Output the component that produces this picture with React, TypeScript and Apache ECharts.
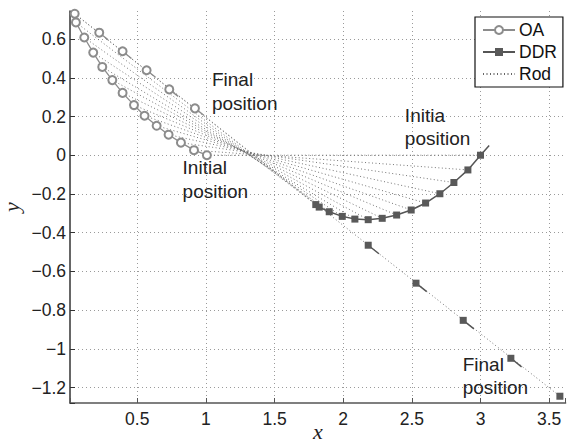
import React, { useEffect, useRef } from 'react';
import * as echarts from 'echarts';

// OA trajectory (lower curve), from final (top) to initial (bottom-right)
const oaX = [0.044, 0.053, 0.114, 0.179, 0.245, 0.318, 0.393, 0.476, 0.553, 0.641, 0.728, 0.818, 0.913, 1.007];
const oaY = [0.731, 0.686, 0.608, 0.530, 0.456, 0.388, 0.322, 0.259, 0.204, 0.152, 0.106, 0.065, 0.026, 0.0];
const oaCorner = [0.02, 0.745];
// DDR trajectory (U curve), paired with OA points
const ddrX = [1.80, 1.825, 1.898, 1.993, 2.085, 2.182, 2.284, 2.389, 2.495, 2.600, 2.704, 2.806, 2.908, 3.0];
const ddrY = [-0.255, -0.268, -0.292, -0.316, -0.330, -0.333, -0.326, -0.309, -0.283, -0.247, -0.199, -0.141, -0.076, 0.0];
const ddrTip = [3.063, 0.05];
// nodes along the final rod
const oaFinalX = [0.223, 0.393, 0.568, 0.733, 0.92];
const oaFinalY = [0.633, 0.537, 0.439, 0.340, 0.242];
const oaFinalTailX = [0.288, 0.458, 0.633, 0.798, 0.985];
const oaFinalTailY = [0.597, 0.500, 0.403, 0.304, 0.206];
const ddrFinalX = [2.182, 2.530, 2.874, 3.221, 3.578];
const ddrFinalY = [-0.465, -0.661, -0.853, -1.049, -1.245];
const ddrFinalTailX = [2.26, 2.608, 2.952, 3.299, 3.6];
const ddrFinalTailY = [-0.509, -0.705, -0.897, -1.093, -1.257];
// final rod end points
const finalRodX = [0.044, 3.578];
const finalRodY = [0.731, -1.245];

const notes = [
  { text: 'Final\nposition', x: 1.044, y: 0.33 },
  { text: 'Initial\nposition', x: 0.83, y: -0.125 },
  { text: 'Initia\nposition', x: 2.449, y: 0.146 },
  { text: 'Final\nposition', x: 2.87, y: -1.14 },
];

const X_MIN = 0.01, X_MAX = 3.62, Y_MIN = -1.28, Y_MAX = 0.745;
const BREAK: any = ['-', '-'];
const FONT = "'Liberation Sans', Arial, Helvetica, sans-serif";
const SERIF = "'Liberation Serif', 'DejaVu Serif', serif";

function fmt(v: number, step: number) {
  const k = v / step;
  if (Math.abs(k - Math.round(k)) > 1e-6) return '';
  const r = Math.round(v * 10) / 10;
  if (r === 0) return '0';
  return String(r).replace('-', '\u2212');
}

export default function App() {
  const ref = useRef<HTMLDivElement>(null);
  useEffect(() => {
    if (!ref.current) return;
    const chart = echarts.init(ref.current, null, { renderer: 'svg' });

    const rodData: any[] = [];
    for (let i = 0; i < oaX.length; i++) {
      rodData.push([oaX[i], oaY[i]], [ddrX[i], ddrY[i]], BREAK);
    }
    rodData.push([finalRodX[0], finalRodY[0]], [finalRodX[1], finalRodY[1]]);

    const oaData: any[] = [{ value: oaCorner, symbol: 'none' }];
    for (let i = 0; i < oaX.length; i++) oaData.push([oaX[i], oaY[i]]);
    for (let i = 0; i < oaFinalX.length; i++) {
      oaData.push(BREAK, [oaFinalX[i], oaFinalY[i]], { value: [oaFinalTailX[i], oaFinalTailY[i]], symbol: 'none' });
    }

    const ddrData: any[] = [];
    for (let i = 0; i < ddrX.length; i++) ddrData.push([ddrX[i], ddrY[i]]);
    ddrData.push({ value: ddrTip, symbol: 'none' });
    for (let i = 0; i < ddrFinalX.length; i++) {
      ddrData.push(BREAK, [ddrFinalX[i], ddrFinalY[i]], { value: [ddrFinalTailX[i], ddrFinalTailY[i]], symbol: 'none' });
    }

    const gridLine = { show: true, showMinLine: false, showMaxLine: false, lineStyle: { color: '#9a9a9a', width: 1, type: [1, 3] } };

    chart.setOption({
      animation: false,
      backgroundColor: '#fff',
      textStyle: { fontFamily: FONT },
      grid: { left: 70, right: 567 - 70 - (X_MAX - X_MIN) * 137.3, top: 11, bottom: 442 - 403, outerBoundsMode: 'none', containLabel: false },
      xAxis: {
        type: 'value', min: X_MIN, max: X_MAX, minInterval: 0.5, maxInterval: 0.5,
        name: 'x', nameLocation: 'middle', nameGap: 17, nameMoveOverlap: false,
        nameTextStyle: { fontFamily: SERIF, fontStyle: 'italic', fontSize: 22, color: '#222' },
        axisLine: { show: true, onZero: false, lineStyle: { color: '#555', width: 1.5 } },
        axisTick: { show: true, inside: true, length: 5, lineStyle: { color: '#555' } },
        axisLabel: { fontSize: 17.5, color: '#222', margin: 7, formatter: (v: number) => fmt(v, 0.5) },
        splitLine: gridLine,
      },
      yAxis: {
        type: 'value', min: Y_MIN, max: Y_MAX, minInterval: 0.2, maxInterval: 0.2,
        name: 'y', nameLocation: 'middle', nameGap: 48, nameRotate: 90, nameMoveOverlap: false,
        nameTextStyle: { fontFamily: SERIF, fontStyle: 'italic', fontSize: 22, color: '#222' },
        axisLine: { show: true, onZero: false, lineStyle: { color: '#333', width: 1.5 } },
        axisTick: { show: true, inside: true, length: 5, lineStyle: { color: '#333' } },
        axisLabel: { fontSize: 17.5, color: '#222', margin: 4, formatter: (v: number) => fmt(v, 0.2) },
        splitLine: gridLine,
      },
      legend: {
        left: 475, top: 17, orient: 'vertical',
        data: ['OA', 'DDR', { name: 'Rod', itemStyle: { opacity: 0 } }],
        backgroundColor: '#fff', borderColor: '#111', borderWidth: 1.2, borderRadius: 0,
        padding: [4, 6, 4, 7], itemGap: 4, itemWidth: 32, itemHeight: 10,
        textStyle: { fontSize: 17.5, color: '#111', lineHeight: 18, padding: [0, 0, 0, -1] },
      },
      series: [
        {
          name: 'Rod', type: 'line', data: rodData, symbol: 'none', connectNulls: false,
          lineStyle: { color: '#666', width: 0.9, type: [1, 2.5] }, itemStyle: { color: '#666' }, z: 1,
        },
        {
          name: 'OA', type: 'line', data: oaData, symbol: 'emptyCircle', symbolSize: 8, connectNulls: false,
          lineStyle: { color: '#8c8c8c', width: 1.3 }, itemStyle: { color: '#8c8c8c', borderWidth: 1.2 }, z: 3,
        },
        {
          name: 'DDR', type: 'line', data: ddrData, symbol: 'rect', symbolSize: 7, connectNulls: false,
          lineStyle: { color: '#555', width: 1.5 }, itemStyle: { color: '#595959' }, z: 4,
        },
      ],
    });

    const graphics = notes.map((n) => {
      const p = chart.convertToPixel({ gridIndex: 0 }, [n.x, n.y]) as number[];
      return {
        type: 'text', x: p[0], y: p[1], z: 10,
        style: { text: n.text, fontSize: 19, lineHeight: 23.5, fontFamily: FONT, fill: '#222', align: 'left', verticalAlign: 'middle' },
      };
    });
    chart.setOption({ graphic: graphics });

    return () => chart.dispose();
  }, []);
  return <div ref={ref} style={{ position: 'fixed', left: 0, top: 0, width: 567, height: 442, background: '#fff' }} />;
}
